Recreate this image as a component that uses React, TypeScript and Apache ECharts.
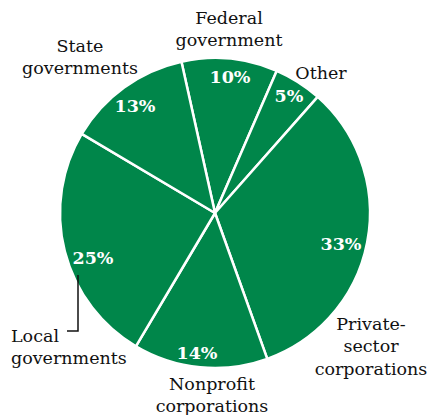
import React, { useEffect, useRef } from "react";
import * as echarts from "echarts";

const names = [
  "Federal\ngovernment",
  "Other",
  "Private-\nsector\ncorporations",
  "Nonprofit\ncorporations",
  "Local\ngovernments",
  "State\ngovernments",
];
const values = [10, 5, 33, 14, 25, 13];

// label anchor positions (centers)
const pctPos: [number, number][] = [
  [230, 77],
  [289, 96],
  [341, 244],
  [197, 353],
  [93, 258],
  [135, 106],
];
const namePos: [number, number, string][] = [
  [229, 29, "center"],
  [321, 73, "center"],
  [371, 346, "center"],
  [212, 395, "center"],
  [11, 347, "left"],
  [80, 57, "center"],
];

export default function App() {
  const ref = useRef<HTMLDivElement>(null);
  useEffect(() => {
    document.body.style.margin = "0";
    const chart = echarts.init(ref.current!, null, { renderer: "svg" });
    const data = names.map((n, i) => ({ name: n, value: values[i] }));
    const nameTexts = names.map((n, i) => ({
      type: "text",
      x: namePos[i][0],
      y: namePos[i][1],
      z: 100,
      style: {
        text: n,
        fill: "#111111",
        font: "17.5px 'DejaVu Serif'",
        lineHeight: 22.5,
        align: namePos[i][2],
        verticalAlign: "middle",
      },
    }));
    chart.setOption({
      animation: false,
      backgroundColor: "#ffffff",
      graphic: [
        ...nameTexts,
        {
          type: "polyline",
          shape: { points: [[78, 275], [78, 331], [67, 331]] },
          style: { stroke: "#111", lineWidth: 1.5, fill: null },
          z: 100,
        },
      ],
      series: [
        {
          type: "pie",
          center: [215, 213],
          radius: [0, 155],
          startAngle: 102.5,
          clockwise: true,
          silent: true,
          itemStyle: { color: "#00864A", borderColor: "#ffffff", borderWidth: 2.5 },
          label: {
            show: true,
            position: "inside",
            formatter: "{c}%",
            color: "#ffffff",
            fontFamily: "DejaVu Serif",
            fontWeight: "bold",
            fontSize: 17.5,
          },
          labelLine: { show: false },
          labelLayout: (p: any) => ({
            x: pctPos[p.dataIndex][0],
            y: pctPos[p.dataIndex][1],
            align: "center",
            verticalAlign: "middle",
          }),
          data,
        },
      ],
    });
    return () => chart.dispose();
  }, []);
  return <div ref={ref} style={{ width: 429, height: 415 }} />;
}
